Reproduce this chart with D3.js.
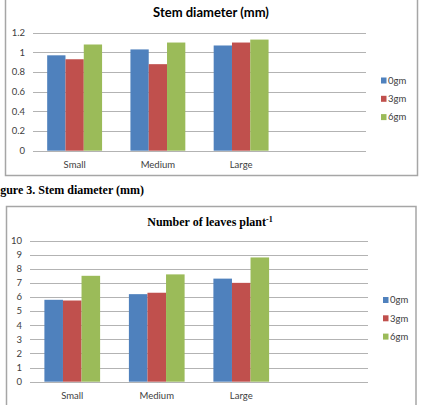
<!DOCTYPE html>
<html>
<head>
<meta charset="utf-8">
<script src="https://cdn.jsdelivr.net/npm/d3@7"></script>
<style>
  html, body { margin: 0; padding: 0; background: #fff; }
  svg { display: block; }
</style>
</head>
<body>
<div id="chart"></div>
<script>
// DATA
const categories = ["Small", "Medium", "Large"];
const seriesNames = ["0gm", "3gm", "6gm"];

const stem0gm = [0.97, 1.03, 1.07];
const stem3gm = [0.93, 0.88, 1.10];
const stem6gm = [1.08, 1.10, 1.13];
const stemTicks = [0, 0.2, 0.4, 0.6, 0.8, 1, 1.2];

const leaves0gm = [5.8, 6.2, 7.3];
const leaves3gm = [5.75, 6.3, 7.0];
const leaves6gm = [7.5, 7.6, 8.8];
const leavesTicks = [0, 1, 2, 3, 4, 5, 6, 7, 8, 9, 10];

const colors = ["#4f81bd", "#c0504d", "#9bbb59"];

// SETUP
const width = 423;
const height = 405;

const svg = d3.select("#chart")
    .append("svg")
    .attr("width", width)
    .attr("height", height)
    .attr("viewBox", [0, 0, width, height]);

function drawChart(opt) {
    const g = svg.append("g");

    // frame
    g.append("rect")
        .attr("x", opt.box[0] + 0.5)
        .attr("y", opt.box[1] + 0.5)
        .attr("width", opt.box[2] - opt.box[0])
        .attr("height", opt.box[3] - opt.box[1])
        .attr("fill", "#fff")
        .attr("stroke", "#a6a6a6")
        .attr("stroke-width", 1.5);

    // scales - 4 slots, last one empty like the Excel original
    const x0 = d3.scaleBand()
        .domain([...categories, "_empty"])
        .range([opt.plot.left, opt.plot.right])
        .paddingInner(0)
        .paddingOuter(0);

    const x1 = d3.scaleBand()
        .domain(seriesNames)
        .range([0, x0.bandwidth()])
        .paddingOuter(0.775);

    const y = d3.scaleLinear()
        .domain(d3.extent(opt.ticks))
        .range([opt.plot.bottom, opt.plot.top]);

    // grid
    g.append("g")
        .selectAll("line")
        .data(opt.ticks)
        .join("line")
        .attr("x1", opt.plot.left)
        .attr("x2", opt.plot.right)
        .attr("y1", d => Math.round(y(d)) + 0.5)
        .attr("y2", d => Math.round(y(d)) + 0.5)
        .attr("stroke", "#b3b3b3")
        .attr("stroke-width", 1);

    // y labels
    g.append("g")
        .selectAll("text")
        .data(opt.ticks)
        .join("text")
        .attr("x", opt.plot.left - 8)
        .attr("y", d => y(d))
        .attr("dy", "0.35em")
        .attr("text-anchor", "end")
        .attr("font-family", "Lato, 'Open Sans', sans-serif")
        .attr("font-size", "9.5px")
        .attr("fill", "#404040")
        .text(d => d);

    // bars
    const rows = categories.map((c, i) => ({
        cat: c,
        vals: opt.series.map((s, j) => ({ name: seriesNames[j], v: s[i], j }))
    }));

    g.append("g")
        .selectAll("g")
        .data(rows)
        .join("g")
        .attr("transform", d => `translate(${x0(d.cat)},0)`)
        .selectAll("rect")
        .data(d => d.vals)
        .join("rect")
        .attr("x", d => x1(d.name))
        .attr("width", x1.bandwidth())
        .attr("y", d => y(d.v))
        .attr("height", d => y(0) - y(d.v))
        .attr("fill", d => colors[d.j]);

    // x labels
    g.append("g")
        .selectAll("text")
        .data(categories)
        .join("text")
        .attr("x", d => x0(d) + x0.bandwidth() / 2)
        .attr("y", opt.plot.bottom + 14)
        .attr("dy", "0.35em")
        .attr("text-anchor", "middle")
        .attr("font-family", "Lato, 'Open Sans', sans-serif")
        .attr("font-size", "9.5px")
        .attr("fill", "#404040")
        .text(d => d);

    // legend
    const legend = g.append("g")
        .attr("transform", `translate(${opt.legend[0]}, ${opt.legend[1]})`);

    const item = legend.selectAll("g")
        .data(seriesNames)
        .join("g")
        .attr("transform", (d, i) => `translate(0, ${i * 18.3})`);

    item.append("rect")
        .attr("x", 0)
        .attr("y", -3)
        .attr("width", 5.5)
        .attr("height", 6)
        .attr("fill", (d, i) => colors[i]);

    item.append("text")
        .attr("x", 7)
        .attr("y", 0)
        .attr("dy", "0.35em")
        .attr("font-family", "Lato, 'Open Sans', sans-serif")
        .attr("font-size", "9.5px")
        .attr("fill", "#404040")
        .text(d => d);

    return g;
}

// --- TOP CHART ---
const stemChart = drawChart({
    box: [5, -5, 417, 175],
    plot: { left: 33, right: 366, top: 32.7, bottom: 150.7 },
    ticks: stemTicks,
    series: [stem0gm, stem3gm, stem6gm],
    legend: [381, 80.5]
});

stemChart.append("text")
    .attr("x", 211)
    .attr("y", 12)
    .attr("dy", "0.35em")
    .attr("text-anchor", "middle")
    .attr("font-family", "Lato, 'Open Sans', sans-serif")
    .attr("font-weight", "bold")
    .attr("font-size", "13px")
    .attr("fill", "#000")
    .text("Stem diameter (mm)");

// caption (cut off at left edge in the source)
svg.append("text")
    .attr("x", -10.5)
    .attr("y", 190)
    .attr("dy", "0.35em")
    .attr("font-family", "'Liberation Serif', 'Times New Roman', serif")
    .attr("font-weight", "bold")
    .attr("font-size", "12px")
    .attr("fill", "#000")
    .text("Figure 3. Stem diameter (mm)");

// --- BOTTOM CHART ---
const leavesChart = drawChart({
    box: [6, 206, 415.5, 412],
    plot: { left: 30, right: 368, top: 240.5, bottom: 381.7 },
    ticks: leavesTicks,
    series: [leaves0gm, leaves3gm, leaves6gm],
    legend: [383, 300]
});

const t2 = leavesChart.append("text")
    .attr("x", 210)
    .attr("y", 222)
    .attr("dy", "0.35em")
    .attr("text-anchor", "middle")
    .attr("font-family", "'Liberation Serif', 'Times New Roman', serif")
    .attr("font-weight", "bold")
    .attr("font-size", "12px")
    .attr("fill", "#000");

t2.append("tspan").text("Number of leaves plant");
t2.append("tspan")
    .attr("dy", "-4")
    .attr("font-size", "8px")
    .text("-1");
</script>
</body>
</html>
